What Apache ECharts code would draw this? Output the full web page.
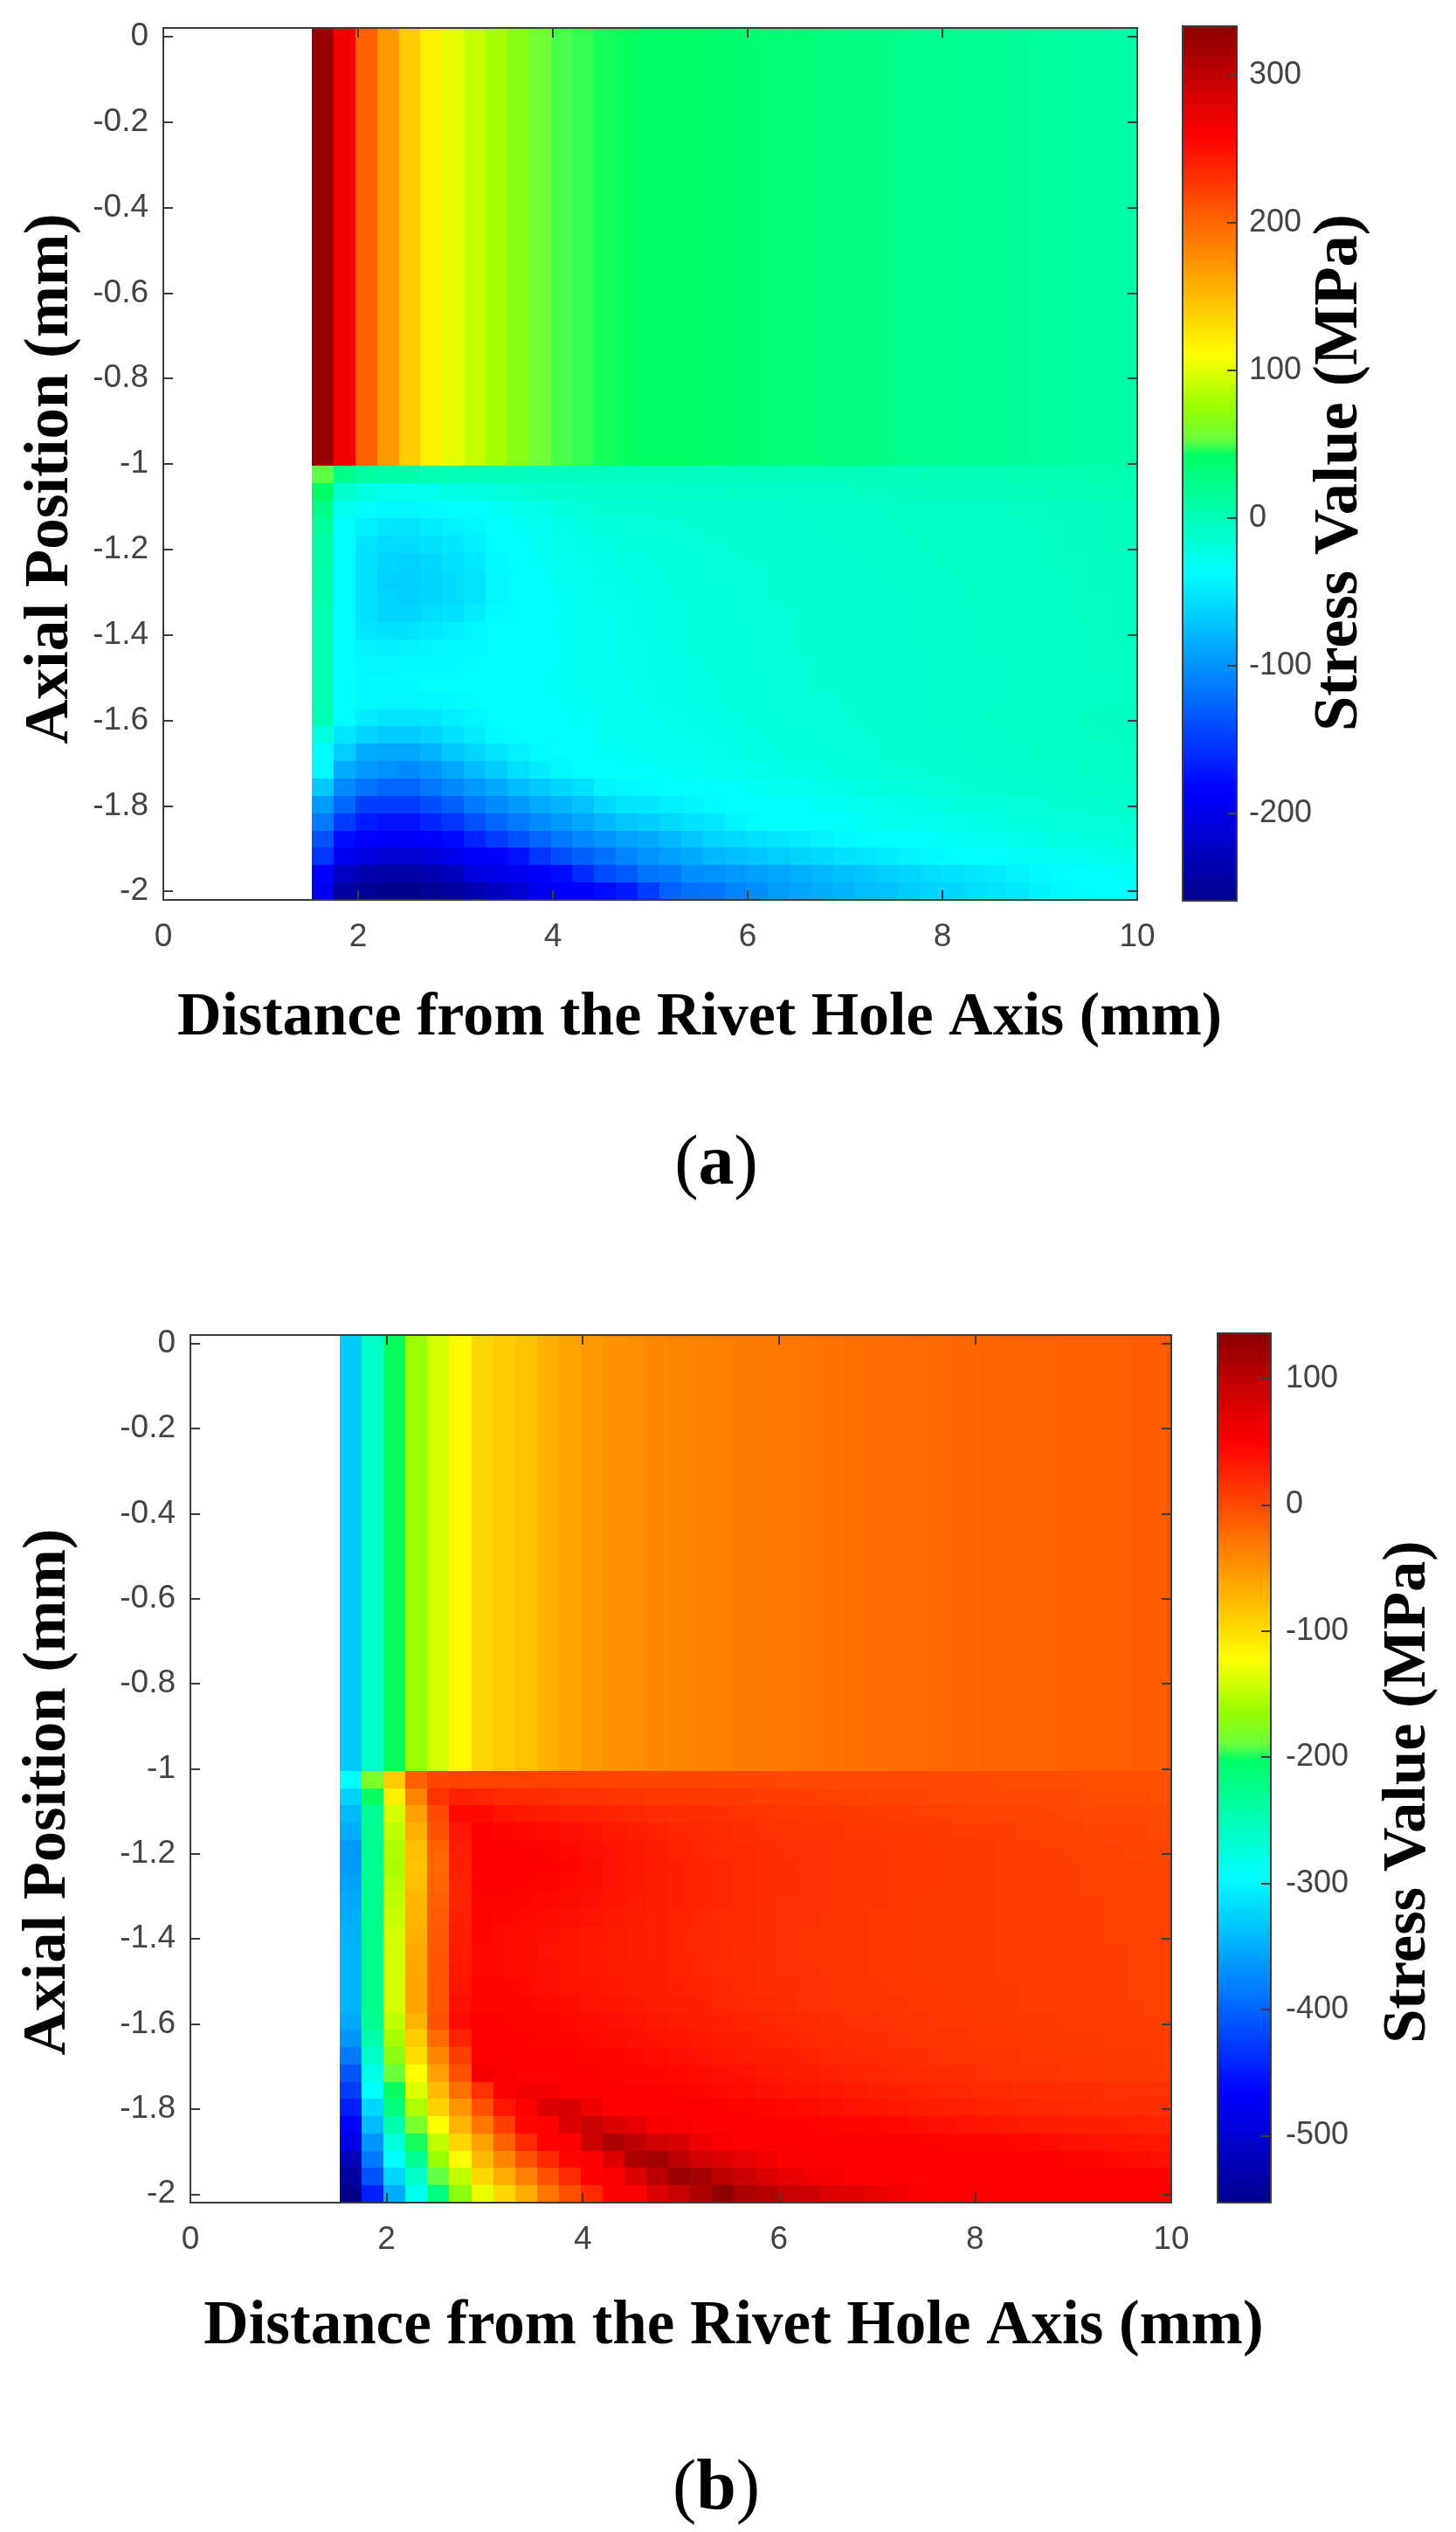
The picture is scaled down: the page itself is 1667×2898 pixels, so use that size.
<!DOCTYPE html>
<html>
<head>
<meta charset="utf-8">
<style>html,body{margin:0;padding:0;background:#fff}#c{width:1667px;height:2898px}</style>
<script src="https://cdn.jsdelivr.net/npm/echarts@6/dist/echarts.min.js"></script>
</head>
<body>
<div id="c"></div>
<script>
// ---------- axis ticks ----------
const xTicks = [0, 2, 4, 6, 8, 10];
const yTicks = [0, -0.2, -0.4, -0.6, -0.8, -1, -1.2, -1.4, -1.6, -1.8, -2];
const barTicksA = [300, 200, 100, 0, -100, -200];
const barTicksB = [100, 0, -100, -200, -300, -400, -500];
const rangeA = [-259, 333];
const rangeB = [-553, 136];

// ---------- colormap ----------
const cmapPos = [0, 0.125, 0.375, 0.515, 0.522, 0.565, 0.625, 0.875, 1];
const cmapCol = ['#00008B', '#0000FF', '#00FFFF', '#00FF60', '#66FF44', '#99FF00', '#FFFF00', '#FF0000', '#8B0000'];

// ---------- panel (a): stress, MPa ----------
const upperA = [325,265,203,170,141,120,102,91,80,67,55,49,48,46,45,44,43,42,41,39,37,35,33,31,29,27,25,23,22,20,18,17,15,14,12,11,10,9];
const lowerA = [
[50,24,12,8,6,4,2,0,-1,-2,-3,-3,-3, -3,-3,-3,-3,-3,-3,-3,-2,-2,-2,-2,-1,-1,0,0,1,1,2,2,3,3,4,4,5,5],
[44,-10,-22,-27,-28,-26,-22,-20,-18,-16,-14,-12,-11, -10,-9,-9,-8,-8,-8,-7,-7,-6,-6,-5,-5,-4,-4,-3,-3,-2,-2,-1,-1,0,1,1,2,3],
[24,-28,-38,-41,-42,-39,-37,-35,-32,-28,-24,-19,-17, -14,-13,-13,-12,-12,-11,-11,-10,-10,-9,-9,-8,-8,-7,-7,-6,-6,-5,-5,-4,-4,-3,-3,-2,-1],
[14,-37,-46,-50,-52,-47,-44,-42,-36,-33,-29,-25,-21, -18,-17,-16,-15,-14,-13,-13,-12,-11,-10,-10,-9,-9,-8,-7,-7,-6,-6,-5,-5,-4,-4,-3,-2,-2],
[10,-37,-52,-57,-58,-54,-50,-46,-38,-35,-31,-27,-24, -22,-20,-19,-18,-16,-15,-14,-13,-12,-11,-11,-10,-9,-9,-8,-7,-7,-6,-6,-5,-5,-4,-3,-3,-2],
[8,-38,-54,-61,-63,-59,-55,-49,-40,-37,-33,-29,-26, -24,-22,-21,-19,-18,-16,-15,-14,-13,-12,-12,-11,-10,-9,-9,-8,-7,-7,-6,-5,-5,-4,-4,-3,-3],
[7,-38,-55,-63,-65,-61,-58,-52,-42,-38,-34,-31,-28, -25,-24,-22,-20,-19,-17,-16,-15,-14,-13,-12,-11,-11,-10,-9,-8,-8,-7,-6,-6,-5,-5,-4,-3,-3],
[6,-38,-55,-62,-64,-60,-58,-52,-42,-38,-35,-32,-29, -26,-25,-23,-21,-20,-18,-17,-16,-14,-13,-13,-12,-11,-10,-10,-9,-8,-7,-7,-6,-5,-5,-4,-4,-3],
[5,-38,-54,-60,-61,-57,-54,-48,-40,-38,-35,-33,-30, -27,-26,-24,-22,-20,-19,-17,-16,-15,-14,-13,-12,-11,-11,-10,-9,-8,-8,-7,-6,-6,-5,-4,-4,-3],
[4,-37,-50,-54,-53,-49,-46,-42,-38,-37,-36,-33,-30, -28,-26,-24,-23,-21,-19,-18,-16,-15,-14,-13,-12,-12,-11,-10,-9,-9,-8,-7,-6,-6,-5,-5,-4,-3],
[3,-37,-44,-46,-44,-42,-41,-40,-37,-36,-35,-33,-31, -28,-27,-25,-23,-21,-20,-18,-17,-15,-14,-13,-13,-12,-11,-10,-10,-9,-8,-7,-7,-6,-5,-5,-4,-4],
[3,-36,-42,-42,-41,-40,-39,-38,-36,-35,-34,-33,-31, -29,-27,-25,-24,-22,-20,-18,-17,-16,-15,-14,-13,-12,-11,-11,-10,-9,-8,-8,-7,-6,-6,-5,-4,-4],
[3,-36,-40,-40,-39,-38,-37,-37,-36,-35,-34,-32,-31, -29,-28,-26,-24,-22,-21,-19,-18,-16,-15,-14,-13,-12,-12,-11,-10,-9,-9,-8,-7,-6,-6,-5,-5,-4],
[3,-36,-40,-42,-42,-41,-40,-38,-37,-36,-35,-33,-32, -30,-28,-27,-25,-23,-21,-20,-18,-17,-16,-15,-14,-13,-12,-11,-10,-9,-9,-8,-7,-7,-6,-5,-5,-4],
[1,-38,-48,-52,-52,-50,-46,-42,-38,-37,-36,-35,-33, -30,-29,-28,-26,-25,-23,-22,-20,-19,-17,-16,-15,-13,-12,-11,-10,-9,-8,-7,-6,-6,-5,-4,-3,-3],
[-20,-50,-62,-67,-67,-62,-54,-47,-40,-38,-36,-35,-34, -31,-30,-29,-28,-26,-25,-23,-21,-20,-18,-17,-16,-14,-13,-12,-11,-10,-9,-8,-7,-6,-6,-5,-4,-3],
[-37,-67,-85,-88,-88,-80,-68,-60,-52,-45,-39,-37,-36, -33,-32,-31,-30,-28,-26,-24,-22,-21,-20,-18,-17,-16,-14,-13,-12,-11,-10,-9,-8,-7,-6,-6,-5,-4],
[-40,-85,-96,-100,-105,-98,-88,-76,-67,-55,-47,-42,-38, -36,-35,-34,-33,-32,-30,-28,-26,-24,-22,-21,-20,-18,-16,-15,-14,-13,-12,-11,-10,-9,-8,-7,-6,-5],
[-68,-105,-118,-126,-126,-115,-105,-96,-86,-76,-68,-60,-55, -44,-41,-38,-37,-36,-35,-34,-32,-30,-28,-26,-24,-22,-20,-18,-17,-15,-14,-13,-12,-11,-10,-9,-8,-8],
[-96,-125,-148,-150,-150,-140,-130,-115,-105,-96,-85,-80,-72, -60,-52,-50,-46,-43,-39,-37,-36,-35,-34,-33,-31,-29,-27,-25,-23,-21,-19,-18,-16,-15,-14,-13,-12,-11],
[-115,-150,-170,-175,-175,-165,-155,-138,-126,-115,-105,-96,-88, -78,-70,-66,-60,-55,-50,-43,-38,-37,-36,-35,-34,-32,-30,-29,-28,-26,-24,-22,-20,-18,-17,-16,-15,-14],
[-138,-178,-185,-186,-186,-185,-180,-165,-150,-138,-126,-115,-106, -98,-90,-86,-78,-70,-62,-58,-55,-50,-47,-44,-41,-38,-37,-36,-34,-32,-30,-28,-26,-24,-22,-21,-20,-18],
[-155,-195,-205,-212,-215,-207,-197,-187,-185,-175,-155,-140,-130, -120,-108,-98,-92,-86,-78,-74,-70,-66,-62,-58,-54,-50,-47,-44,-41,-38,-36,-36,-34,-32,-30,-28,-26,-25],
[-185,-222,-238,-242,-242,-235,-228,-207,-200,-195,-187,-178,-160, -142,-132,-118,-114,-102,-100,-96,-92,-88,-82,-78,-74,-70,-65,-61,-57,-54,-50,-47,-44,-41,-38,-36,-34,-32],
[-195,-245,-252,-258,-259,-252,-245,-238,-226,-215,-197,-188,-186, -178,-170,-150,-128,-120,-118,-108,-102,-94,-90,-84,-80,-75,-72,-66,-62,-60,-56,-52,-49,-45,-41,-38,-36,-35]
];

// ---------- panel (b): stress, MPa ----------
const upperB = [-330,-262,-199,-164,-140,-118,-95,-88,-80,-70,-60,-54,-50,-46,-42,-40,-38,-36,-34,-32,-30,-28,-27,-25,-24,-22,-21,-20,-19,-18,-17,-16,-16,-15,-14,-14,-13,-12];
const lowerB = [
[-295,-181,-88,-15,3,5,5,5,5,5,5,4,4,4,3,3,3,2,2,2,1,1,1,0,0,0,-1,-1,-1,-1,-2,-2,-2,-2,-3,-3,-3,-3],
[-325,-199,-112,-40,16,28,25,22,21,20,18,17,16,14,13,12,11,10,9,8,7,6,5,4,3,3,2,1,1,0,0,-1,-1,-1,-2,-2,-2,-3],
[-342,-230,-140,-58,0,44,44,36,34,32,30,28,26,24,22,20,19,18,16,15,13,12,11,10,9,8,7,6,5,4,3,3,2,1,1,0,0,-1],
[-350,-228,-148,-68,-5,35,50,46,44,42,40,36,33,30,27,25,23,21,19,18,16,15,14,13,12,11,10,9,8,7,6,5,4,4,3,2,2,1],
[-363,-228,-155,-78,-18,30,50,50,50,48,44,40,37,34,30,27,25,23,21,20,18,17,16,15,14,13,12,11,10,9,8,7,6,5,4,4,3,2],
[-362,-228,-156,-80,-20,28,50,50,50,49,45,42,38,35,31,28,26,24,22,20,19,18,17,15,14,13,12,11,10,9,8,8,7,6,5,4,4,3],
[-358,-228,-152,-78,-18,26,50,50,49,47,44,41,37,34,30,28,26,24,22,20,19,17,16,15,14,13,12,11,10,9,8,8,7,6,5,5,4,4],
[-352,-226,-148,-74,-15,26,48,48,46,44,42,39,36,33,30,28,26,24,22,20,18,17,16,15,14,12,11,10,10,9,8,8,7,6,6,5,5,4],
[-350,-225,-145,-72,-12,28,48,46,44,42,40,37,34,32,29,27,25,23,21,19,18,17,15,14,13,12,11,10,9,9,8,7,7,6,6,5,5,4],
[-347,-224,-142,-68,-10,30,46,44,42,40,38,35,33,30,28,26,24,22,21,19,18,16,15,14,13,12,11,10,9,9,8,7,7,6,6,5,5,5],
[-345,-224,-140,-64,-8,32,44,43,41,38,36,34,32,30,28,26,24,22,20,19,17,16,15,14,13,12,11,10,9,9,8,7,7,6,6,6,5,5],
[-345,-224,-140,-62,-8,34,44,44,41,39,37,35,33,31,29,27,25,23,21,19,18,17,15,14,13,12,11,10,10,9,8,8,7,7,6,6,5,5],
[-345,-224,-140,-60,-8,36,46,45,43,40,38,36,34,32,30,28,26,24,22,20,19,17,16,15,14,13,12,11,10,9,9,8,7,7,6,6,5,5],
[-345,-224,-140,-60,-8,40,47,47,45,43,41,38,36,34,32,30,28,25,23,21,20,18,17,16,15,14,13,12,11,10,9,8,8,7,7,6,6,5],
[-352,-228,-148,-72,-5,42,50,49,47,45,43,41,39,37,35,33,31,28,26,24,22,21,19,18,17,15,14,13,12,11,10,9,9,8,7,7,6,6],
[-365,-245,-158,-88,-24,25,50,50,49,48,46,44,42,40,38,36,34,31,29,27,25,23,22,20,19,17,16,15,14,13,12,11,10,9,9,8,7,7],
[-385,-262,-172,-100,-42,7,50,50,50,50,49,47,45,44,42,40,38,35,33,31,29,27,25,23,22,20,19,17,16,15,14,13,12,11,11,10,9,8],
[-410,-280,-190,-122,-58,-5,58,52,50,50,50,49,48,47,45,44,41,39,37,35,33,31,28,26,25,23,22,20,19,17,16,15,14,13,12,11,11,10],
[-425,-295,-199,-138,-75,-25,18,50,60,60,50,50,50,50,49,48,46,44,42,40,38,36,34,32,30,28,27,25,24,23,21,20,20,19,19,18,18,17],
[-445,-322,-215,-155,-92,-52,-5,35,50,75,78,62,50,50,50,50,50,49,48,46,44,42,40,38,36,34,32,30,29,27,26,25,24,23,22,21,20,19],
[-467,-342,-245,-182,-122,-72,-30,7,45,50,75,92,75,70,55,52,50,50,50,50,50,49,48,47,46,44,42,40,38,36,34,33,32,30,29,28,27,26],
[-485,-365,-272,-198,-148,-95,-58,-15,22,50,50,88,112,100,85,80,62,52,50,50,50,50,50,50,50,50,49,48,47,46,45,44,42,40,38,36,35,34],
[-520,-385,-295,-228,-165,-122,-75,-40,-5,22,46,50,75,112,118,100,85,76,68,60,52,50,50,50,50,50,50,50,50,50,50,50,49,48,46,44,42,40],
[-540,-412,-322,-262,-193,-148,-96,-66,-36,-3,22,50,52,75,100,125,118,100,88,75,68,60,54,50,50,50,50,50,50,50,50,50,50,50,50,50,50,50],
[-553,-445,-350,-282,-215,-172,-130,-96,-66,-30,-3,22,50,52,75,92,112,134,112,105,92,88,75,72,65,60,52,50,50,50,50,50,50,50,50,50,50,50]
];

// ---------- text ----------
const xTitle = 'Distance from the Rivet Hole Axis (mm)';
const yTitle = 'Axial Position (mm)';
const barTitle = 'Stress Value (MPa)';

// ---------- cell layout in data units ----------
const colStart = 1.525, xMax = 10, yTop = 0.02, ySplit = -1.005, yBottom = -2.02, nRows = 25;

function hex(c){return [1,3,5].map(i=>parseInt(c.substr(i,2),16));}
function colorList(n){
  const out=[];
  for(let i=0;i<n;i++){
    const t=i/(n-1); let k=0;
    while(k<cmapPos.length-2&&t>cmapPos[k+1])k++;
    const f=(t-cmapPos[k])/(cmapPos[k+1]-cmapPos[k]);
    const a=hex(cmapCol[k]),b=hex(cmapCol[k+1]);
    out.push('rgb('+a.map((v,j)=>Math.round(v+(b[j]-v)*f)).join(',')+')');
  }
  return out;
}
function cells(upper,lower){
  const out=[], w=(xMax-colStart)/upper.length;
  const hu=(yTop-ySplit)/nRows, hl=(ySplit-yBottom)/nRows;
  upper.forEach((v,c)=>{
    for(let r=0;r<nRows;r++) out.push([colStart+c*w,colStart+(c+1)*w,yTop-r*hu,yTop-(r+1)*hu,v]);
  });
  lower.forEach((row,r)=>row.forEach((v,c)=>{
    out.push([colStart+c*w,colStart+(c+1)*w,ySplit-r*hl,ySplit-(r+1)*hl,v]);
  }));
  return out;
}
function renderCell(params,api){
  const p0=api.coord([api.value(0),api.value(2)]), p1=api.coord([api.value(1),api.value(3)]);
  const x0=Math.round(p0[0]),x1=Math.round(p1[0]),y0=Math.round(p0[1]),y1=Math.round(p1[1]);
  return {type:'rect',shape:{x:x0,y:y0,width:x1-x0,height:y1-y0},style:{fill:api.visual('color')}};
}

const ink='#3c3c3c';
const sans='"Liberation Sans", Arial, sans-serif';
const serif='"Liberation Serif", "Times New Roman", serif';
const line={show:true,onZero:false,lineStyle:{color:ink,width:2}};

// one panel = plot grid + bar grid, each boxed by four axes
const grids=[],xAxes=[],yAxes=[],series=[],maps=[];
function plainAxis(pos,gi,min,max){
  return {type:'value',gridIndex:gi,position:pos,min:min,max:max,z:10,silent:true,
    axisLine:line,axisTick:{show:false},axisLabel:{show:false},splitLine:{show:false}};
}
function panel(g,bar,upper,lower,range,barTicks,barMargin){
  const gi=grids.length;
  grids.push({left:g.left,top:g.top,width:g.width,height:g.height,containLabel:false});
  const tick={show:true,inside:true,length:11,lineStyle:{color:ink,width:2}};
  const xi=xAxes.length, yi=yAxes.length;
  xAxes.push(Object.assign(plainAxis('bottom',gi,0,xMax),{
    axisTick:Object.assign({},tick,{customValues:xTicks}),
    axisLabel:{show:true,customValues:xTicks,color:'#444',fontFamily:sans,fontSize:37,margin:24,formatter:v=>String(v)}}));
  xAxes.push(Object.assign(plainAxis('top',gi,0,xMax),{
    axisTick:Object.assign({},tick,{customValues:xTicks})}));
  yAxes.push(Object.assign(plainAxis('left',gi,yBottom,yTop),{
    axisTick:Object.assign({},tick,{customValues:yTicks}),
    axisLabel:{show:true,customValues:yTicks,color:'#444',fontFamily:sans,fontSize:37,margin:17,padding:[3,0,0,0],formatter:v=>String(v)}}));
  yAxes.push(Object.assign(plainAxis('right',gi,yBottom,yTop),{
    axisTick:Object.assign({},tick,{customValues:yTicks})}));
  series.push({type:'custom',xAxisIndex:xi,yAxisIndex:yi,coordinateSystem:'cartesian2d',
    renderItem:renderCell,encode:{x:[0,1],y:[2,3]},data:cells(upper,lower),progressive:0,animation:false,silent:true,clip:true});
  maps.push({type:'continuous',seriesIndex:series.length-1,dimension:4,min:range[0],max:range[1],
    left:bar.left,top:bar.top,itemWidth:bar.width,itemHeight:bar.height,padding:0,calculable:false,hoverLink:false,
    text:null,showLabel:false,inRange:{color:colorList(200)}});
  // colour-bar axes
  const bi=grids.length;
  grids.push({left:bar.left,top:bar.top,width:bar.width,height:bar.height,containLabel:false});
  xAxes.push(plainAxis('bottom',bi,0,1));
  xAxes.push(plainAxis('top',bi,0,1));
  yAxes.push(plainAxis('left',bi,range[0],range[1]));
  yAxes.push(Object.assign(plainAxis('right',bi,range[0],range[1]),{
    axisTick:Object.assign({},tick,{customValues:barTicks}),
    axisLabel:{show:true,customValues:barTicks,color:'#444',fontFamily:sans,fontSize:36,margin:barMargin,padding:[3,0,0,0],formatter:v=>String(v)}}));
}
panel({left:187,top:32,width:1115,height:998},{left:1354,top:30,width:62,height:1001},upperA,lowerA,rangeA,barTicksA,14);
panel({left:218,top:1528,width:1123,height:993},{left:1394,top:1526,width:61,height:995},upperB,lowerB,rangeB,barTicksB,17);

function title(text,x,y,rot,size){
  return {type:'text',x:x,y:y,rotation:rot,silent:true,z:20,
    style:{text:text,fontFamily:serif,fontWeight:'bold',fontSize:size,fill:'#000',textAlign:'center',textVerticalAlign:'middle'}};
}
function caption(letter,x,y){
  return {type:'text',x:x,y:y,silent:true,z:20,
    style:{text:'{p|(}{l|'+letter+'}{p|)}',textAlign:'center',textVerticalAlign:'middle',
      rich:{p:{fontFamily:serif,fontSize:82,fill:'#000'},l:{fontFamily:serif,fontWeight:'bold',fontSize:82,fill:'#000'}}}};
}
const V=Math.PI/2;
const chart=echarts.init(document.getElementById('c'),null,{renderer:'canvas'});
chart.setOption({
  animation:false,backgroundColor:'#fff',tooltip:{show:false},
  grid:grids,xAxis:xAxes,yAxis:yAxes,series:series,visualMap:maps,
  graphic:[
    title(xTitle,801,1166,0,70),
    title(yTitle,59,548,V,71),
    title(barTitle,1534,541,V,72.5),
    caption('a',820,1334),
    title(xTitle,840,2664,0,71),
    title(yTitle,56,2051,V,70.5),
    title(barTitle,1613,2051,V,70.5),
    caption('b',820,2850)
  ]
});
</script>
</body>
</html>
